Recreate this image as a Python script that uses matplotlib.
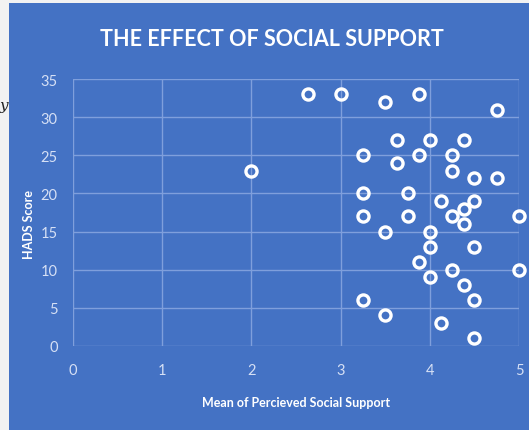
import matplotlib.pyplot as plt
from matplotlib.patches import Rectangle

# mean of perceived social support vs HADS score
support = [2, 2.63, 3, 3.5, 3.88, 4.75, 3.63, 4, 4.38, 3.25, 3.63, 3.88, 4.25, 4.25,
           4.5, 4.75, 3.25, 3.75, 4.13, 4.38, 4.5, 3.25, 3.75, 4.25, 4.38, 5,
           3.5, 4, 4, 4.5, 3.88, 4, 4.25, 4.38, 5, 4.5, 3.25, 3.5, 4.13, 4.5]
hads = [23, 33, 33, 32, 33, 31, 27, 27, 27, 25, 24, 25, 25, 23,
        22, 22, 20, 20, 19, 18, 19, 17, 17, 17, 16, 17,
        15, 15, 13, 13, 11, 9, 10, 8, 10, 6, 6, 4, 3, 1]
xticks = [0, 1, 2, 3, 4, 5]
yticks = [0, 5, 10, 15, 20, 25, 30, 35]

fam = 'Lato'
bg = '#4472c4'
grid_col = '#7f9fdc'
tick_col = '#d6e0f5'

fig = plt.figure(figsize=(5.29, 4.31), dpi=100)
fig.patch.set_facecolor('#f2f2f2')
fig.add_artist(Rectangle((9 / 529, 0), 520 / 529, 427 / 431, transform=fig.transFigure,
                         facecolor=bg, edgecolor='none', zorder=0))
fig.text(0.0, 1 - 106 / 431, 'y', family='DejaVu Serif', style='italic', fontsize=11,
         color='#222222', ha='left', va='center')

ax = fig.add_axes([73 / 529, 1 - 347 / 431, 446 / 529, 267 / 431])
ax.set_facecolor('none')
ax.plot(support, hads, 'o', markersize=8, markerfacecolor='none',
        markeredgecolor='white', markeredgewidth=2.4, clip_on=False, zorder=3)

ax.set_xlim(0, 5)
ax.set_ylim(0, 35)
ax.set_xticks(xticks)
ax.set_yticks(yticks)
ax.grid(True, color=grid_col, linewidth=1)
for s in ax.spines.values():
    s.set_visible(False)
ax.tick_params(length=0, colors=tick_col, labelsize=10.5)
ax.tick_params(axis='x', pad=12)
ax.tick_params(axis='y', pad=11)
for lab in ax.get_xticklabels() + ax.get_yticklabels():
    lab.set_family(fam)

fig.text(272 / 529, 1 - 39 / 431, 'THE EFFECT OF SOCIAL SUPPORT', color='white',
         fontsize=15.5, fontweight='bold', family=fam, ha='center', va='center')
ax.set_xlabel('Mean of Percieved Social Support', color='white', fontsize=9,
              fontweight='bold', family=fam)
ax.set_ylabel('HADS Score', color='white', fontsize=9, fontweight='bold', family=fam)
ax.xaxis.set_label_coords((296 - 73) / 446, (347 - 397) / 267)
ax.yaxis.set_label_coords((35 - 73) / 446, (347 - 225) / 267)

plt.savefig('out.png', dpi=100)
